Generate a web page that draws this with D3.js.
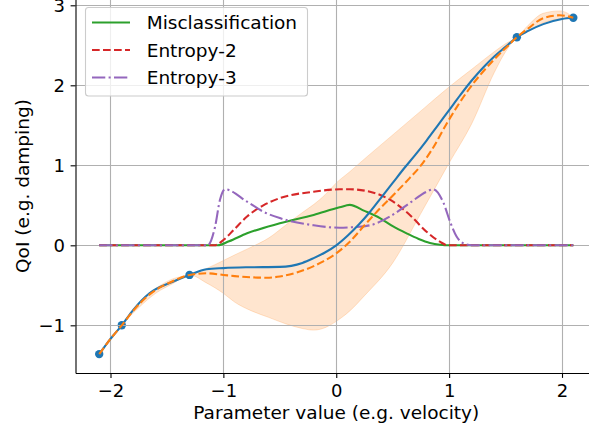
<!DOCTYPE html>
<html>
<head>
<meta charset="utf-8">
<script src="https://cdn.jsdelivr.net/npm/d3@7"></script>
<style>
  body { margin: 0; background: #fff; }
  svg { display: block; overflow: hidden; }
  text { font-family: "DejaVu Sans", sans-serif; fill: #000; }
</style>
</head>
<body>
<div id="chart"></div>
<script>
var svgWidth = 589;
var svgHeight = 431;

// observed samples
var obsX = [-2.1, -1.9, -1.3, 1.6, 2.1];
var obsY = [-1.36, -1.0, -0.37, 2.6, 2.845];

// true function (blue)
var trueX = [-2.1, -2.0, -1.9, -1.8, -1.655, -1.448, -1.3, -1.15, -1.0, -0.8, -0.5, -0.3, -0.2, -0.1, 0, 0.1, 0.2, 0.3, 0.4, 0.5, 0.6, 0.7, 0.8, 0.9, 1.0, 1.1, 1.2, 1.3, 1.4, 1.5, 1.6, 1.7, 1.834, 2.0, 2.1];
var trueY = [-1.36, -1.17, -1.0, -0.81, -0.6, -0.455, -0.37, -0.30, -0.285, -0.275, -0.27, -0.22, -0.16, -0.09, 0.0, 0.12, 0.26, 0.42, 0.6, 0.78, 0.96, 1.13, 1.31, 1.5, 1.69, 1.88, 2.06, 2.22, 2.36, 2.48, 2.6, 2.68, 2.765, 2.83, 2.845];

// GP mean (orange dashed)
var meanX = [-2.1, -2.0, -1.9, -1.8, -1.65, -1.45, -1.3, -1.15, -1.0, -0.9, -0.75, -0.616, -0.5, -0.35, -0.2, -0.115, 0, 0.12, 0.25, 0.387, 0.5, 0.65, 0.74, 0.845, 0.99, 1.18, 1.39, 1.54, 1.6, 1.7, 1.834, 1.98, 2.1];
var meanY = [-1.36, -1.17, -1.0, -0.82, -0.61, -0.45, -0.37, -0.35, -0.37, -0.385, -0.40, -0.405, -0.39, -0.34, -0.26, -0.2, -0.1, 0.045, 0.25, 0.46, 0.62, 0.84, 0.98, 1.19, 1.55, 1.96, 2.31, 2.52, 2.6, 2.71, 2.84, 2.875, 2.845];

// confidence band (orange fill)
var bandX = [-2.1, -2.0, -1.9, -1.75, -1.6, -1.45, -1.3, -1.15, -1.0, -0.9, -0.75, -0.6, -0.45, -0.3, -0.2, -0.1, 0, 0.12, 0.25, 0.5, 0.75, 1.0, 1.2, 1.4, 1.5, 1.6, 1.7, 1.834, 1.98, 2.05, 2.1];
var bandLo = [-1.36, -1.19, -1.0, -0.78, -0.60, -0.48, -0.37, -0.47, -0.6, -0.71, -0.82, -0.9, -0.98, -1.04, -1.06, -1.03, -0.95, -0.82, -0.63, -0.22, 0.40, 1.03, 1.52, 2.16, 2.42, 2.6, 2.67, 2.78, 2.83, 2.84, 2.845];
var bandHi = [-1.36, -1.15, -1.0, -0.72, -0.54, -0.42, -0.37, -0.29, -0.19, -0.12, -0.02, 0.09, 0.25, 0.41, 0.51, 0.63, 0.78, 0.92, 1.08, 1.38, 1.68, 1.98, 2.2, 2.42, 2.52, 2.6, 2.75, 2.9, 2.93, 2.9, 2.845];

// Misclassification (green)
var misX = [-2.1, -1.05, -0.95, -0.79, -0.5, -0.2, 0.03, 0.12, 0.25, 0.387, 0.5, 0.623, 0.73, 0.83, 0.92, 1.0, 2.1];
var misY = [0, 0, 0.05, 0.15, 0.275, 0.38, 0.475, 0.505, 0.43, 0.34, 0.24, 0.15, 0.08, 0.03, 0.007, 0, 0];

// Entropy-2 (red dashed)
var ent2X = [-2.1, -1.08, -1.0, -0.91, -0.79, -0.646, -0.5, -0.2, 0.03, 0.12, 0.298, 0.476, 0.652, 0.8, 0.918, 0.99, 2.1];
var ent2Y = [0, 0, 0.066, 0.19, 0.36, 0.5, 0.59, 0.67, 0.7, 0.70, 0.67, 0.57, 0.38, 0.17, 0.045, 0, 0];

// Entropy-3 (purple dash-dot)
var ent3X = [-2.1, -1.14, -1.074, -1.03, -0.986, -0.79, -0.646, -0.5, -0.2, 0.03, 0.12, 0.298, 0.476, 0.652, 0.8, 0.86, 0.95, 1.007, 1.066, 1.125, 1.2, 2.1];
var ent3Y = [0, 0, 0.23, 0.57, 0.70, 0.545, 0.42, 0.34, 0.25, 0.22, 0.225, 0.25, 0.36, 0.53, 0.67, 0.70, 0.53, 0.3, 0.11, 0.025, 0, 0];

var xTicks = [-2, -1, 0, 1, 2];
var yTicks = [-1, 0, 1, 2, 3];

var legendNames = ["Misclassification", "Entropy-2", "Entropy-3"];

var colors = {
  blue: "#1f77b4",
  orange: "#ff7f0e",
  green: "#2ca02c",
  red: "#d62728",
  purple: "#9467bd"
};

var plot = { left: 75.5, right: 597, top: -5.5, bottom: 373 };

var svg = d3.select("#chart")
  .append("svg")
  .attr("width", svgWidth)
  .attr("height", svgHeight);

var xScale = d3.scaleLinear()
  .domain([-2.31, 2.31])
  .range([plot.left, plot.right]);

var yScale = d3.scaleLinear()
  .domain([-1.596, 3.135])
  .range([plot.bottom, plot.top]);

function zipXY(xs, ys) {
  return xs.map((x, i) => ({ x: x, y: ys[i] }));
}

var lineGen = d3.line()
  .x(d => xScale(d.x))
  .y(d => yScale(d.y))
  .curve(d3.curveMonotoneX);

// band (zorder lowest)
var bandData = bandX.map((x, i) => ({ x: x, lo: bandLo[i], hi: bandHi[i] }));
svg.append("path")
  .datum(bandData)
  .attr("d", d3.area()
    .x(d => xScale(d.x))
    .y0(d => yScale(d.lo))
    .y1(d => yScale(d.hi))
    .curve(d3.curveMonotoneX))
  .attr("fill", colors.orange)
  .attr("fill-opacity", 0.2)
  .attr("stroke", colors.orange)
  .attr("stroke-opacity", 0.2)
  .attr("stroke-width", 1);

// observed points
svg.append("g")
  .selectAll("circle")
  .data(zipXY(obsX, obsY))
  .enter()
  .append("circle")
  .attr("cx", d => xScale(d.x))
  .attr("cy", d => yScale(d.y))
  .attr("r", 4.2)
  .attr("fill", colors.blue);

// grid
var grid = svg.append("g").attr("stroke", "#b0b0b0").attr("stroke-width", 1.1);
grid.selectAll("line.gx")
  .data(xTicks)
  .enter()
  .append("line")
  .attr("x1", d => Math.round(xScale(d)) + 0.5)
  .attr("x2", d => Math.round(xScale(d)) + 0.5)
  .attr("y1", plot.top)
  .attr("y2", plot.bottom);
grid.selectAll("line.gy")
  .data(yTicks)
  .enter()
  .append("line")
  .attr("x1", plot.left)
  .attr("x2", plot.right)
  .attr("y1", d => Math.round(yScale(d)) + 0.5)
  .attr("y2", d => Math.round(yScale(d)) + 0.5);

// curves
var series = [
  { xs: misX, ys: misY, color: colors.green, dash: null },
  { xs: ent2X, ys: ent2Y, color: colors.red, dash: "7.7,3.3" },
  { xs: ent3X, ys: ent3Y, color: colors.purple, dash: "13.3,3.3,2.1,3.3" },
  { xs: trueX, ys: trueY, color: colors.blue, dash: null },
  { xs: meanX, ys: meanY, color: colors.orange, dash: "7.7,3.3" }
];

series.forEach(function(s) {
  svg.append("path")
    .datum(zipXY(s.xs, s.ys))
    .attr("d", lineGen)
    .attr("fill", "none")
    .attr("stroke", s.color)
    .attr("stroke-width", 2.08)
    .attr("stroke-dasharray", s.dash);
});

// axes
var bottomAxis = d3.axisBottom(xScale)
  .tickValues(xTicks)
  .tickFormat(d3.format("d"))
  .tickSize(4.9)
  .tickSizeOuter(0)
  .tickPadding(6.3);

var leftAxis = d3.axisLeft(yScale)
  .tickValues(yTicks)
  .tickFormat(d3.format("d"))
  .tickSize(4.9)
  .tickSizeOuter(0)
  .tickPadding(5.6);

var gx = svg.append("g")
  .attr("transform", `translate(0, ${plot.bottom})`)
  .call(bottomAxis);

var gy = svg.append("g")
  .attr("transform", `translate(${plot.left}, 0)`)
  .call(leftAxis);

[gx, gy].forEach(function(g) {
  g.select(".domain").attr("stroke", "#000").attr("stroke-width", 1.1);
  g.selectAll(".tick line").attr("stroke", "#000").attr("stroke-width", 1.1);
  g.selectAll(".tick text")
    .attr("font-family", "DejaVu Sans")
    .attr("font-size", "18px")
    .attr("fill", "#000");
});

// axis labels
svg.append("text")
  .attr("x", (plot.left + plot.right) / 2)
  .attr("y", 419)
  .attr("text-anchor", "middle")
  .attr("font-size", "18.5px")
  .text("Parameter value (e.g. velocity)");

svg.append("text")
  .attr("transform", "translate(29, 186) rotate(-90)")
  .attr("text-anchor", "middle")
  .attr("font-size", "18.5px")
  .text("QoI (e.g. damping)");

// legend
var legend = svg.append("g");
legend.append("rect")
  .attr("x", 85.5)
  .attr("y", 7.5)
  .attr("width", 222)
  .attr("height", 88.5)
  .attr("rx", 3)
  .attr("fill", "#fff")
  .attr("fill-opacity", 0.8)
  .attr("stroke", "#cccccc")
  .attr("stroke-width", 1.1);

var legendRows = [22.5, 50, 77.5];
legendNames.forEach(function(name, i) {
  legend.append("line")
    .attr("x1", 92)
    .attr("x2", 130)
    .attr("y1", legendRows[i])
    .attr("y2", legendRows[i])
    .attr("stroke", series[i].color)
    .attr("stroke-width", 2.08)
    .attr("stroke-dasharray", series[i].dash);
  legend.append("text")
    .attr("x", 146.7)
    .attr("y", legendRows[i])
    .attr("dy", "0.36em")
    .attr("font-size", "18.5px")
    .text(name);
});
</script>
</body>
</html>
